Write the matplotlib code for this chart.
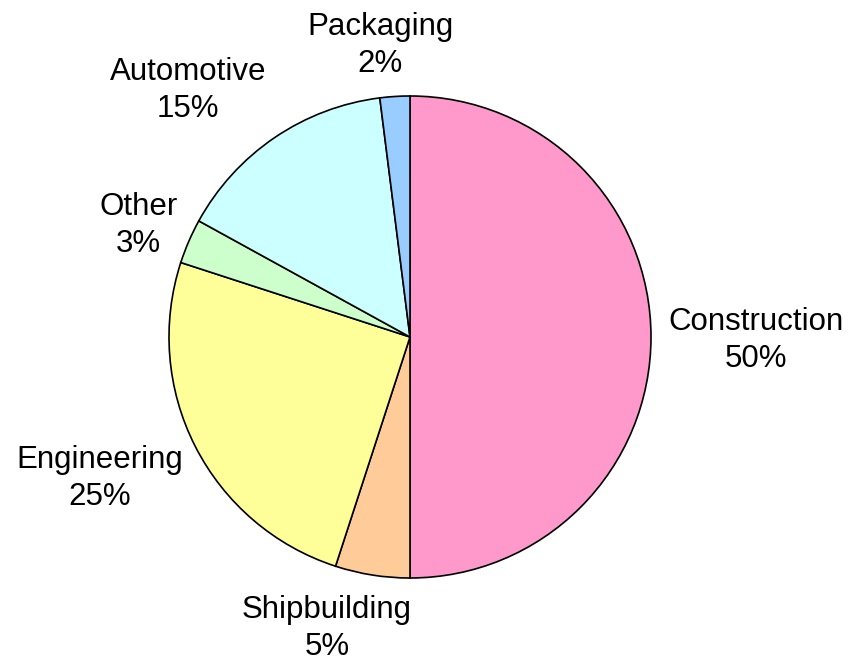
import matplotlib
matplotlib.use("Agg")
import matplotlib.pyplot as plt

# Share of consumption by sector
sectors = ["Construction", "Shipbuilding", "Engineering", "Other", "Automotive", "Packaging"]
shares = [50, 5, 25, 3, 15, 2]
colors = ["#FF99CC", "#FFCC99", "#FFFF99", "#CCFFCC", "#CCFFFF", "#99CCFF"]

# label anchor points, in units of the pie radius
label_pos = [(1.436, -0.014), (-0.344, -1.209), (-1.286, -0.587),
             (-1.128, 0.463), (-0.921, 1.023), (-0.124, 1.21)]

plt.rcParams['font.family'] = ['Liberation Sans', 'DejaVu Sans']

fig = plt.figure(figsize=(8.48, 6.63), dpi=100)
ax = fig.add_axes([0, 0, 1, 1])

cx, cy, r = 410, 663 - 337, 241
ax.pie(shares, colors=colors, startangle=90, counterclock=False,
       center=(cx, cy), radius=r, frame=True,
       wedgeprops=dict(edgecolor='black', linewidth=1.2))
ax.set_xlim(0, 848)
ax.set_ylim(0, 663)
ax.set_aspect('equal')
ax.axis('off')

for name, val, (px, py) in zip(sectors, shares, label_pos):
    ax.text(cx + px * r, cy + py * r, f"{name}\n{val}%", ha='center', va='center',
            fontsize=22.5, linespacing=1.32)

fig.savefig("out.png", dpi=100)
